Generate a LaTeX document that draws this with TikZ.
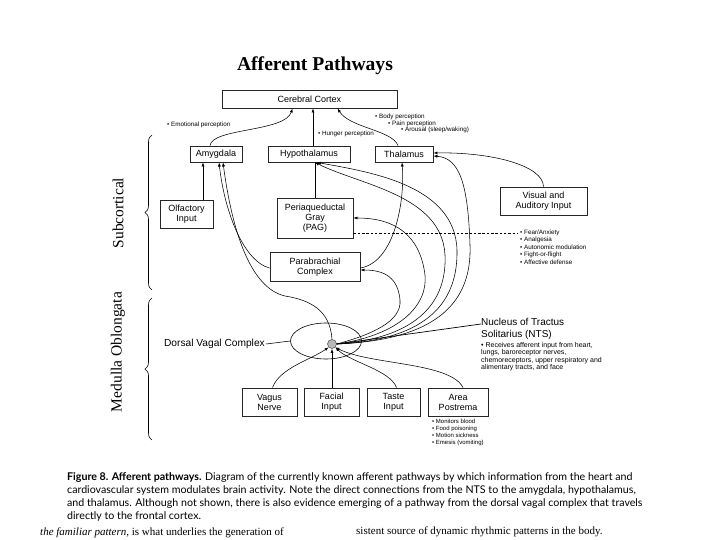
\documentclass[tikz,border=0pt]{standalone}
\usepackage{fontspec}
\setmainfont{Liberation Sans}
\newfontfamily\serifface{Liberation Serif}
\newfontfamily\capface{Lato}
\usetikzlibrary{arrows.meta,decorations.pathreplacing,shapes.geometric}
\begin{document}
\begin{tikzpicture}[x=1pt,y=-1pt,
  box/.style={draw=black!85,line width=0.9pt,fill=white,align=center,inner sep=0pt,
    font=\fontsize{9}{10}\selectfont},
  con/.style={line width=0.55pt,-{Latex[length=4pt,width=3pt]}},
  ln/.style={line width=0.55pt},
  note/.style={inner sep=0pt,anchor=west,font=\fontsize{6.3}{7}\selectfont},
  lst/.style={inner sep=0pt,align=left,anchor=north west},
  captxt/.style={inner sep=0pt,anchor=base west,font=\capface\fontsize{10.65}{12}\selectfont},
  bottxt/.style={inner sep=0pt,anchor=base west,font=\serifface\fontsize{11}{12}\selectfont}]
\useasboundingbox (0,0) rectangle (720,540);
\fill[white] (0,0) rectangle (720,540);
\clip (0,0) rectangle (720,540);

% title
\node[inner sep=0pt,font=\serifface\bfseries\fontsize{19.6}{21}\selectfont] (title) at (315,66) {Afferent Pathways};

% boxes
\node[box,minimum width=175pt,minimum height=18pt] (cortex) at (309.5,99) {Cerebral Cortex};
\node[box,minimum width=52pt,minimum height=16pt] (amy) at (216,154) {Amygdala};
\node[box,minimum width=82pt,minimum height=16pt] (hyp) at (309,154) {Hypothalamus};
\node[box,minimum width=58pt,minimum height=16pt] (thal) at (404,154) {Thalamus};
\node[box,minimum width=53pt,minimum height=28pt] (olf) at (186.5,214) {Olfactory\\Input};
\node[box,minimum width=76pt,minimum height=40pt] (pag) at (315,218) {Periaqueductal\\Gray\\(PAG)};
\node[box,minimum width=90pt,minimum height=29pt] (pb) at (315,267) {Parabrachial\\Complex};
\node[box,minimum width=87pt,minimum height=28pt] (vis) at (543.5,201) {Visual and\\Auditory Input};
\node[box,minimum width=55pt,minimum height=28pt] (vagus) at (269.5,402) {Vagus\\Nerve};
\node[box,minimum width=55pt,minimum height=28pt] (facial) at (331.5,402) {Facial\\Input};
\node[box,minimum width=53pt,minimum height=28pt] (taste) at (393.5,402) {Taste\\Input};
\node[box,minimum width=60pt,minimum height=28pt] (area) at (458,402) {Area\\Postrema};

% notes near cortex
\node[note] (emo) at (167,125) {• Emotional perception};
\node[note] (hunger) at (318,134) {• Hunger perception};
\node[note] (body) at (375,117) {• Body perception};
\node[note] (pain) at (388,123.5) {• Pain perception};
\node[note] (arousal) at (401,130) {• Arousal (sleep/waking)};

% side braces and labels
\draw[line width=0.6pt,decorate,decoration={brace,amplitude=7pt}] (152,290) -- (152,135);
\draw[line width=0.6pt,decorate,decoration={brace,amplitude=7pt}] (152,440) -- (152,298);
\node[rotate=90,inner sep=0pt,font=\serifface\fontsize{15.5}{16}\selectfont] (subc) at (118,213) {Subcortical};
\node[rotate=90,inner sep=0pt,font=\serifface\fontsize{15.5}{16}\selectfont] (medul) at (118,352) {Medulla Oblongata};

% dorsal vagal complex
\node[ellipse,draw,line width=0.6pt,minimum width=71pt,minimum height=36pt,inner sep=0pt] (dvc) at (326,341) {};
\node[circle,fill=gray!55,draw=black!70,line width=0.5pt,minimum size=9pt,inner sep=0pt] (nts) at (332,344) {};
\node[inner sep=1pt,anchor=east,font=\fontsize{10.2}{11}\selectfont] (dvclab) at (266,344) {Dorsal Vagal Complex};
\draw[ln] (dvclab.east) -- (dvc.west);

% NTS label
\node[lst,inner sep=0pt,font=\fontsize{10}{12}\selectfont] (ntslab) at (481,318) {Nucleus of Tractus\\Solitarius (NTS)};
\node[lst,font=\fontsize{7}{7.5}\selectfont] (ntsdesc) at (481,342) {• Receives afferent input from heart,\\lungs, baroreceptor nerves,\\chemoreceptors, upper respiratory and\\alimentary tracts, and face};
\draw[line width=0.7pt] (nts.east) -- ([yshift=-6pt]ntslab.north west);

% PAG effects
\node[lst,font=\fontsize{6.3}{7.5}\selectfont] (fear) at (520,229.5) {• Fear/Anxiety\\• Analgesia\\• Autonomic modulation\\• Fight-or-flight\\• Affective defense};
\draw[ln,dash pattern=on 2.5pt off 1.8pt] ([yshift=-15pt]pag.east) -- ([xshift=-2pt,yshift=-3.5pt]fear.north west);

% area postrema effects
\node[lst,font=\fontsize{6}{7}\selectfont] (aplist) at (432,418.5) {• Monitors blood\\• Food poisoning\\• Motion sickness\\• Emesis (vomiting)};

% connectors to cortex
\draw[con] ([xshift=-6pt]amy.north) .. controls (212,128) and (285,132) .. ([xshift=-17pt]cortex.south);
\draw[con] ([xshift=4pt]hyp.north) -- ([xshift=4pt]hyp.north |- cortex.south);
\draw[con] ([xshift=-6pt]thal.north) .. controls (392,130) and (350,128) .. ([xshift=28pt]cortex.south);

% subcortical connectors
\draw[con] ([xshift=16.5pt]olf.north) -- ([xshift=16.5pt]olf.north |- amy.south);
\draw[ln] (pag.north) -- (pag.north |- hyp.south);
\draw[con] (vis.north) .. controls (543,165) and (490,152) .. ([yshift=1pt]thal.east);
\draw[con] ([yshift=-1pt]pb.west) .. controls (245,262) and (225,215) .. ([xshift=3pt]amy.south);
\draw[con] ([yshift=-1pt]pb.east) .. controls (395,262) and (405,200) .. ([xshift=-2pt]thal.south);

% NTS fan upward
\draw[con] (nts.north) .. controls (330,310) and (310,300) .. (285,296) .. controls (250,288) and (232,230) .. ([xshift=7pt]amy.south);
\draw[con] (nts.east) .. controls (370,335) and (402,322) .. (400,300) .. controls (398,278) and (385,270) .. ([yshift=-3pt]pb.east);
\draw[con] (nts.east) .. controls (400,335) and (428,305) .. (425,275) .. controls (420,235) and (395,218) .. (pag.east);
\draw[con] (nts.east) .. controls (420,338) and (447,300) .. (445,255) .. controls (442,195) and (360,185) .. ([xshift=6pt]hyp.south);
\draw[con] (nts.east) .. controls (430,340) and (458,300) .. (457,250) .. controls (455,185) and (370,172) .. ([xshift=8pt]hyp.south);
\draw[con] (nts.east) .. controls (440,340) and (472,300) .. (470,245) .. controls (468,185) and (460,158) .. ([yshift=-2pt]thal.east);

% inputs from below
\draw[con] ([xshift=3pt]vagus.north) .. controls (280,368) and (310,360) .. (nts.south west);
\draw[con] (nts.south |- facial.north) -- (nts.south);
\draw[con] ([xshift=3pt]taste.north) .. controls (390,370) and (350,362) .. (nts.south east);
\draw[con] ([xshift=5pt]area.north) .. controls (450,362) and (370,365) .. (nts.south east);

% caption
\node[captxt] (c1) at (67,480) {\textbf{Figure 8. Afferent pathways.} Diagram of the currently known afferent pathways by which information from the heart and};
\node[captxt] (c2) at (67,493) {cardiovascular system modulates brain activity. Note the direct connections from the NTS to the amygdala, hypothalamus,};
\node[captxt] (c3) at (67,506) {and thalamus. Although not shown, there is also evidence emerging of a pathway from the dorsal vagal complex that travels};
\node[captxt] (c4) at (67,519) {directly to the frontal cortex.};
\node[bottxt] (b1) at (40,535.5) {\textit{the familiar pattern}, is what underlies the generation of};
\node[bottxt] (b2) at (356,534.5) {sistent source of dynamic rhythmic patterns in the body.};
\end{tikzpicture}
\end{document}
